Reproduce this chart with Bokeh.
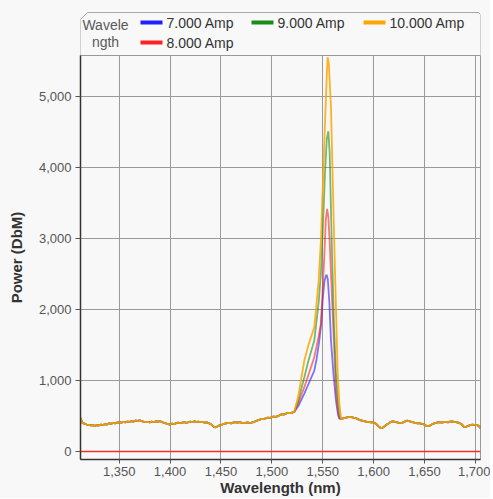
from bokeh.plotting import figure
from bokeh.layouts import column
from bokeh.models import Range1d, FixedTicker, NumeralTickFormatter
from bokeh.core.properties import value
from bokeh.embed import file_html
from bokeh.resources import INLINE

# ---------------- data ----------------
base_left_wl = list(range(1312, 1523, 2))
base_left_pw = [470, 400, 392, 380, 376, 368, 372, 362, 370, 366,
                378, 372, 385, 380, 398, 390, 402, 396, 408, 412,
                405, 418, 410, 422, 416, 428, 420, 436, 430, 440,
                428, 420, 414, 418, 410, 420, 414, 426, 420, 428,
                415, 404, 396, 384, 380, 392, 386, 400, 406, 398,
                408, 415, 404, 412, 420, 414, 424, 418, 422, 412,
                418, 406, 410, 400, 386, 360, 340, 348, 364, 372,
                384, 392, 400, 404, 396, 408, 414, 406, 412, 405,
                398, 404, 410, 402, 406, 414, 426, 438, 450, 460,
                456, 468, 476, 472, 486, 492, 488, 500, 512, 526,
                520, 536, 544, 540, 548, 556]
base_right_wl = list(range(1569, 1706, 2))
base_right_pw = [462, 470, 478, 484, 488, 480, 472, 466, 452, 440,
                 436, 426, 420, 416, 412, 414, 404, 380, 352, 330,
                 336, 360, 380, 398, 418, 424, 416, 410, 404, 400,
                 410, 424, 434, 428, 418, 410, 404, 396, 398, 390,
                 384, 368, 356, 362, 380, 394, 402, 410, 414, 406,
                 412, 418, 410, 420, 424, 418, 414, 406, 396, 376,
                 344, 348, 362, 372, 380, 376, 372, 364, 330]

peak_wl_7 = [1526, 1531.9, 1536, 1541.7, 1544, 1546.6, 1548.5, 1549.9, 1551.5, 1553, 1553.9,
             1555, 1556.5, 1558.1, 1560.5, 1563, 1565, 1566.3]
peak_pw_7 = [640, 815, 950, 1139, 1300, 1561, 1800, 2124, 2380, 2470, 2485,
             2420, 2100, 1561, 1100, 717, 520, 464]
peak_wl_8 = [1526, 1531.9, 1536, 1541.7, 1546, 1548.2, 1550, 1551.5, 1553, 1554.3, 1555.5,
             1557, 1558.1, 1560.5, 1563, 1565, 1566.3]
peak_pw_8 = [680, 905, 1080, 1326, 1620, 1800, 2300, 2733, 3250, 3413, 3300,
             2900, 2503, 1700, 858, 560, 464]
peak_wl_9 = [1526, 1531.9, 1536, 1541.7, 1546, 1548.2, 1550, 1552.2, 1554, 1555.5, 1556.8,
             1558.8, 1561, 1563, 1565, 1567.3]
peak_pw_9 = [720, 1045, 1280, 1561, 2100, 2503, 3100, 3910, 4400, 4505, 4200,
             2968, 1800, 1097, 700, 464]
peak_wl_10 = [1526, 1531.9, 1536, 1541.7, 1546, 1548.2, 1550.5, 1552.2, 1554, 1554.8, 1556,
              1558.1, 1560, 1562.1, 1564.7, 1566.5, 1568]
peak_pw_10 = [780, 1280, 1500, 1748, 2400, 2968, 3900, 4613, 5300, 5546, 5450,
              4843, 3700, 2503, 1097, 650, 464]

zero_wl = [1312, 1705]
zero_pw = [0, 0]

series_names = ["7.000 Amp", "8.000 Amp", "9.000 Amp", "10.000 Amp"]
series_colors = ["#1f1fff", "#ff2020", "#1a8c1a", "#ffa500"]
series_alpha = [0.6, 0.6, 0.6, 0.85]
peak_wls = [peak_wl_7, peak_wl_8, peak_wl_9, peak_wl_10]
peak_pws = [peak_pw_7, peak_pw_8, peak_pw_9, peak_pw_10]

x_ticks = [1350, 1400, 1450, 1500, 1550, 1600, 1650, 1700]
y_ticks = [0, 1000, 2000, 3000, 4000, 5000]
legend_title = ["Wavele", "ngth"]
x_label = "Wavelength (nm)"
y_label = "Power (DbM)"

# ---------------- styling ----------------
BG = "#f8f8f8"
FONT = "Liberation Sans"
W = 490

# ---------------- legend strip ----------------
lg = figure(width=W, height=55, x_range=Range1d(0, 400), y_range=Range1d(45, 0),
            x_axis_location=None, y_axis_location=None, toolbar_location=None,
            output_backend="svg", min_border_left=80, min_border_right=10,
            min_border_top=10, min_border_bottom=0)
lg.xgrid.visible = False
lg.ygrid.visible = False
lg.outline_line_color = None
lg.background_fill_color = BG
lg.border_fill_color = BG
lg.patch([0, 7, 398, 400, 400, 0], [9, 2, 2, 4, 45, 45], fill_color=BG,
         line_color="#a8a8a8", line_width=1)
lg.text(x=[25, 25], y=[14, 31.5], text=legend_title, text_font=value(FONT),
        text_font_size="14px", text_color="#5a5a5a", text_align="center",
        text_baseline="middle")
col_x = [60, 171, 283]
row_y = [12, 32]
slots = {"7.000 Amp": (0, 0), "9.000 Amp": (1, 0), "10.000 Amp": (2, 0), "8.000 Amp": (0, 1)}
for name, color in zip(series_names, series_colors):
    c, r = slots[name]
    lg.segment(x0=[col_x[c]], y0=[row_y[r]], x1=[col_x[c] + 22], y1=[row_y[r]],
               line_color=color, line_width=4)
    lg.text(x=[col_x[c] + 26], y=[row_y[r]], text=[name], text_font=value(FONT),
            text_font_size="14px", text_color="#333333", text_baseline="middle")

# ---------------- main plot ----------------
p = figure(width=W, height=443, x_range=Range1d(1312, 1705), y_range=Range1d(-112, 5570),
           toolbar_location=None, output_backend="svg", min_border_left=80,
           min_border_right=10, min_border_top=0, min_border_bottom=39)
p.background_fill_color = BG
p.border_fill_color = BG
p.outline_line_color = "#999999"

for wl, pw, color, a in zip(peak_wls, peak_pws, series_colors, series_alpha):
    xs = base_left_wl + wl + base_right_wl
    ys = base_left_pw + pw + base_right_pw
    p.line(xs, ys, line_color=color, line_width=1.8, line_alpha=a)

p.line(zero_wl, zero_pw, line_color="#ff2020", line_width=1.5, line_alpha=0.9)

p.xaxis.ticker = FixedTicker(ticks=x_ticks)
p.yaxis.ticker = FixedTicker(ticks=y_ticks)
p.xaxis.formatter = NumeralTickFormatter(format="0,0")
p.yaxis.formatter = NumeralTickFormatter(format="0,0")
p.xaxis.axis_label = x_label
p.yaxis.axis_label = y_label
for ax in (p.xaxis, p.yaxis):
    ax.axis_label_text_font = FONT
    ax.axis_label_text_font_size = "15px"
    ax.axis_label_text_font_style = "bold"
    ax.axis_label_text_color = "#333333"
    ax.major_label_text_font = FONT
    ax.major_label_text_font_size = "13px"
    ax.major_label_text_color = "#555555"
    ax.axis_line_color = "#333333"
    ax.axis_line_width = 1.5
    ax.major_tick_line_color = "#555555"
    ax.minor_tick_line_color = None
    ax.major_tick_in = 0
p.xaxis.major_tick_out = 4
p.yaxis.major_tick_out = 5
p.xaxis.major_label_standoff = 3
p.yaxis.major_label_standoff = 4
p.xaxis.axis_label_standoff = 0
p.yaxis.axis_label_standoff = 11
p.grid.grid_line_color = "#9a9a9a"
p.grid.grid_line_width = 1

layout = column(lg, p, spacing=0)
layout.styles = {"background-color": BG}
open("out.html", "w").write(file_html(layout, INLINE))
